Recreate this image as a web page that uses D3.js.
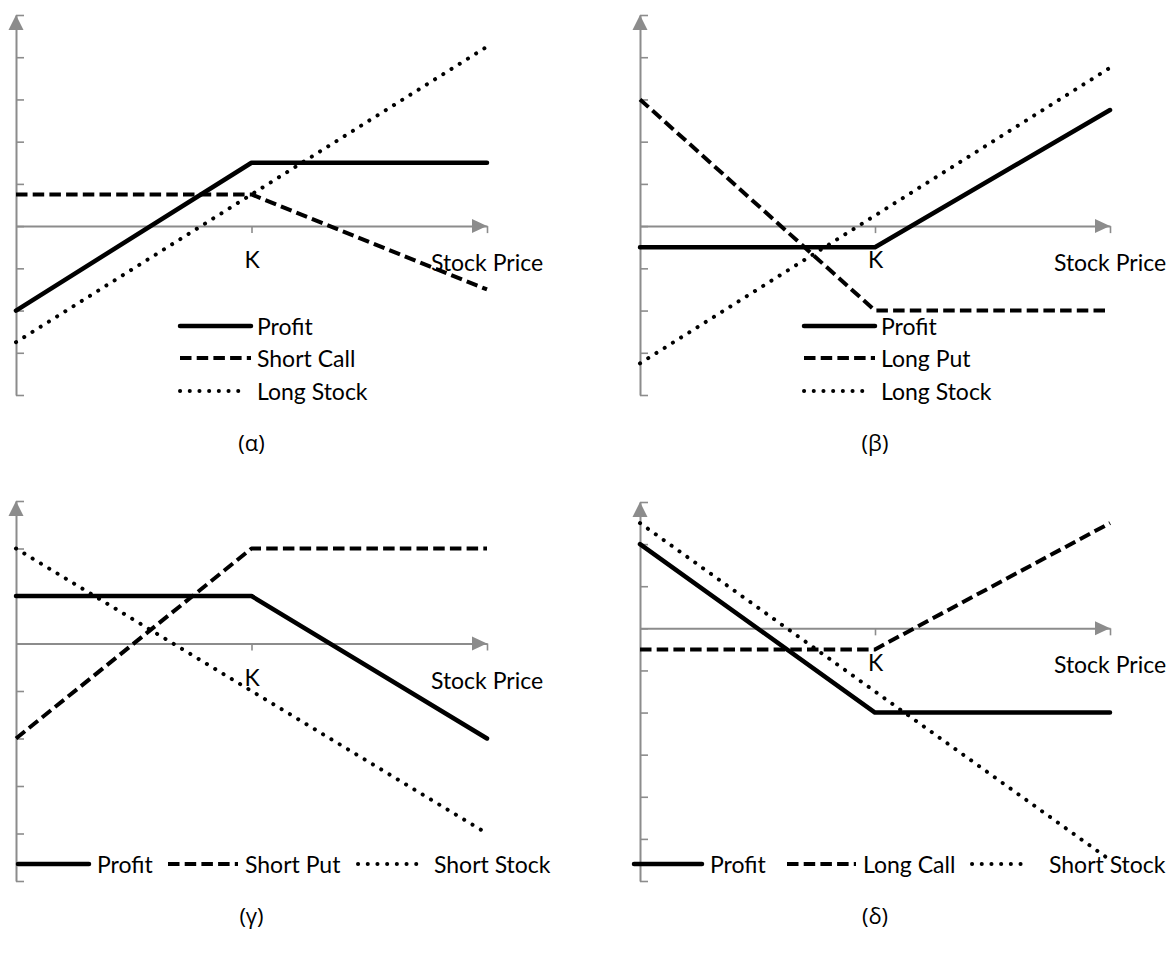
<!DOCTYPE html>
<html>
<head>
<meta charset="UTF-8">
<title>Option strategies</title>
<script src="https://cdn.jsdelivr.net/npm/d3@7"></script>
<style>
  body { margin: 0; background: #fff; }
  svg { display: block; }
  text { font-family: "Lato", "Open Sans", sans-serif; fill: #000; }
  .axis path, .axis line { stroke: #8c8c8c; }
  .axis path { stroke-width: 2; }
  .axis line { stroke-width: 1.6; }
  .axis text { font-size: 23px; font-family: "Lato", sans-serif; }
  .caption { font-family: "Open Sans", "DejaVu Sans", sans-serif; }
</style>
</head>
<body>
<svg width="1176" height="953"></svg>
<script>
// stock price: 0, K, 2K
const prices = [0, 50, 100];
const strikeLabel = "K";

// panel (α)
const alphaNames = ["Profit", "Short Call", "Long Stock"];
const alphaProfit = [-2, 1.5, 1.5];
const alphaShortCall = [0.75, 0.75, -1.5];
const alphaLongStock = [-2.75, 0.75, 4.25];

// panel (β)
const betaNames = ["Profit", "Long Put", "Long Stock"];
const betaProfit = [-0.5, -0.5, 2.75];
const betaLongPut = [3, -2, -2];
const betaLongStock = [-3.25, 0.25, 3.75];

// panel (γ)
const gammaNames = ["Profit", "Short Put", "Short Stock"];
const gammaProfit = [1, 1, -2];
const gammaShortPut = [-2, 2, 2];
const gammaShortStock = [2, -1, -4];

// panel (δ)
const deltaNames = ["Profit", "Long Call", "Short Stock"];
const deltaProfit = [2, -2, -2];
const deltaLongCall = [-0.5, -0.5, 2.5];
const deltaShortStock = [2.5, -1.5, -5.5];

const captions = ["(α)", "(β)", "(γ)", "(δ)"];

const styles = [
  { width: 4.5, dash: null, cap: "round" },
  { width: 4, dash: "11.5,5.2", cap: "butt" },
  { width: 4, dash: "0.1,9.6", cap: "round" }
];

const panels = [
  { cap: captions[0], names: alphaNames, series: [alphaProfit, alphaShortCall, alphaLongStock],
    x0: 16, x1: 487, yTop: 15, yBot: 395, yMin: -4, yMax: 5, capY: 442,
    legend: { vertical: true, x: 180, len: 71, gap: 6, ys: [326, 358, 391] } },
  { cap: captions[1], names: betaNames, series: [betaProfit, betaLongPut, betaLongStock],
    x0: 640, x1: 1110, yTop: 15, yBot: 395, yMin: -4, yMax: 5, capY: 442,
    legend: { vertical: true, x: 804, len: 71, gap: 6, ys: [326, 358, 391] } },
  { cap: captions[2], names: gammaNames, series: [gammaProfit, gammaShortPut, gammaShortStock],
    x0: 16, x1: 487, yTop: 501, yBot: 881, yMin: -5, yMax: 3, capY: 915,
    legend: { vertical: false, y: 864, items: [[18, 89, 97], [168, 238, 245], [358, 421, 434]] } },
  { cap: captions[3], names: deltaNames, series: [deltaProfit, deltaLongCall, deltaShortStock],
    x0: 640, x1: 1110, yTop: 502, yBot: 881, yMin: -6, yMax: 3, capY: 915,
    legend: { vertical: false, y: 864, items: [[634, 702, 710], [787, 856, 863], [972, 1028, 1049]] } }
];

const svg = d3.select("svg");
svg.append("rect").attr("width", 1176).attr("height", 953).attr("fill", "#fff");

function styleLine(sel, s) {
  sel.attr("fill", "none")
    .attr("stroke", "#000")
    .attr("stroke-width", s.width)
    .attr("stroke-linecap", s.cap)
    .attr("stroke-linejoin", "round");
  if (s.dash) sel.attr("stroke-dasharray", s.dash);
  return sel;
}

panels.forEach(p => {
  const g = svg.append("g");
  const x = d3.scaleLinear().domain([prices[0], prices[2]]).range([p.x0, p.x1]);
  const y = d3.scaleLinear().domain([p.yMin, p.yMax]).range([p.yBot, p.yTop]);
  const y0 = y(0);

  // y axis, ticks on the right side
  g.append("g")
    .attr("class", "axis")
    .attr("transform", `translate(${p.x0},0)`)
    .call(d3.axisRight(y).tickValues(d3.range(p.yMin, p.yMax + 1)).tickSize(8).tickSizeOuter(0).tickFormat(""));

  // x axis at zero
  g.append("g")
    .attr("class", "axis")
    .attr("transform", `translate(0,${y0})`)
    .call(d3.axisBottom(x).tickValues([prices[1], prices[2]]).tickSize(7).tickSizeOuter(0).tickPadding(19)
      .tickFormat(d => d === prices[1] ? strikeLabel : ""));

  // arrow heads
  g.append("path")
    .attr("d", `M${p.x0},${p.yTop} L${p.x0 - 7.5},${p.yTop + 15} L${p.x0 + 7.5},${p.yTop + 15} Z`)
    .attr("fill", "#8c8c8c");
  g.append("path")
    .attr("d", `M${p.x1},${y0} L${p.x1 - 15},${y0 - 7} L${p.x1 - 15},${y0 + 7} Z`)
    .attr("fill", "#8c8c8c");

  g.append("text")
    .attr("x", p.x1).attr("y", y0 + 36)
    .attr("text-anchor", "middle").attr("dominant-baseline", "central")
    .attr("font-size", 23)
    .text("Stock Price");

  const line = d3.line().x((d, i) => x(prices[i])).y(d => y(d));

  // draw profit last so it sits on top
  [2, 1, 0].forEach(k => {
    styleLine(g.append("path").datum(p.series[k]).attr("d", line), styles[k]);
  });

  // legend
  const L = p.legend;
  p.names.forEach((name, k) => {
    let lx1, lx2, ly, tx;
    if (L.vertical) {
      lx1 = L.x; lx2 = L.x + (k === 2 ? L.len - 8 : L.len); ly = L.ys[k]; tx = L.x + L.len + L.gap;
    } else {
      [lx1, lx2, tx] = L.items[k]; ly = L.y;
    }
    styleLine(g.append("line").attr("x1", lx1).attr("x2", lx2).attr("y1", ly).attr("y2", ly), styles[k]);
    g.append("text")
      .attr("x", tx).attr("y", ly)
      .attr("dominant-baseline", "central")
      .attr("font-size", 23)
      .text(name);
  });

  g.append("text")
    .attr("class", "caption")
    .attr("x", (p.x0 + p.x1) / 2).attr("y", p.capY)
    .attr("text-anchor", "middle").attr("dominant-baseline", "central")
    .attr("font-size", 22)
    .text(p.cap);
});
</script>
</body>
</html>
